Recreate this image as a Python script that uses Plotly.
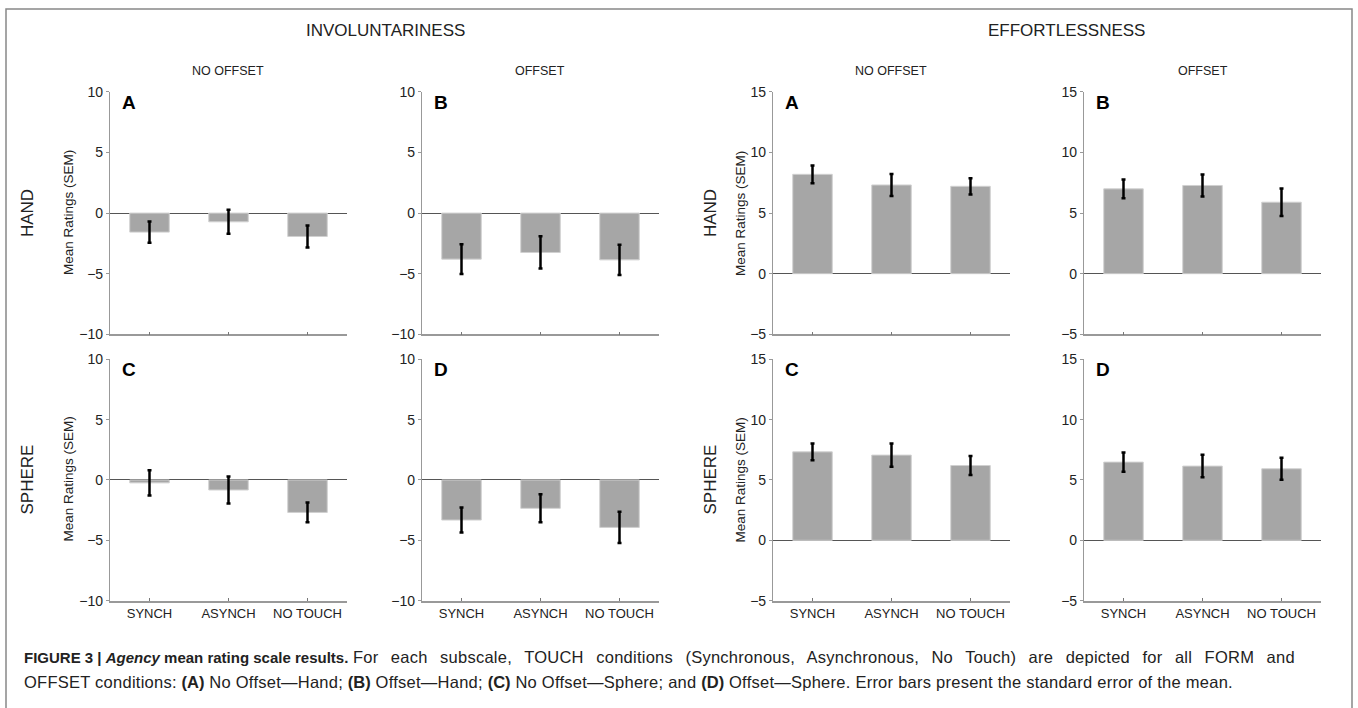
import plotly.graph_objects as go

W, H = 1358, 708

categories = ["SYNCH", "ASYNCH", "NO TOUCH"]

# Involuntariness
inv_A_mean = [-1.57, -0.72, -1.93]
inv_A_sem = [0.88, 0.99, 0.91]
inv_B_mean = [-3.80, -3.25, -3.86]
inv_B_sem = [1.22, 1.33, 1.24]
inv_C_mean = [-0.24, -0.83, -2.69]
inv_C_sem = [1.05, 1.11, 0.82]
inv_D_mean = [-3.32, -2.35, -3.93]
inv_D_sem = [1.03, 1.16, 1.30]

# Effortlessness
eff_A_mean = [8.20, 7.32, 7.21]
eff_A_sem = [0.73, 0.90, 0.67]
eff_B_mean = [7.00, 7.28, 5.90]
eff_B_sem = [0.78, 0.91, 1.13]
eff_C_mean = [7.33, 7.06, 6.20]
eff_C_sem = [0.70, 0.97, 0.78]
eff_D_mean = [6.48, 6.15, 5.93]
eff_D_sem = [0.79, 0.93, 0.92]

panel_letters = ["A", "B", "A", "B", "C", "D", "C", "D"]
inv_ticks = [-10, -5, 0, 5, 10]
eff_ticks = [-5, 0, 5, 10, 15]

panels = [
    (inv_A_mean, inv_A_sem, "inv"), (inv_B_mean, inv_B_sem, "inv"),
    (eff_A_mean, eff_A_sem, "eff"), (eff_B_mean, eff_B_sem, "eff"),
    (inv_C_mean, inv_C_sem, "inv"), (inv_D_mean, inv_D_sem, "inv"),
    (eff_C_mean, eff_C_sem, "eff"), (eff_D_mean, eff_D_sem, "eff"),
]


def py(y):
    # page y coordinate for a target picture y
    return (y - 8.2) / 0.976


col_px = [(110, 347), (422, 659), (773, 1010), (1084, 1321)]
row_px = [(92, 334), (359, 600)]

FONT = "Liberation Sans, Arial, Helvetica, sans-serif"
TXT = "#222222"
AXC = "#999999"

fig = go.Figure()
layout = {}
annotations = []

for i, (m, s, kind) in enumerate(panels):
    r, c = divmod(i, 4)
    sfx = "" if i == 0 else str(i + 1)
    fig.add_trace(go.Bar(
        x=categories, y=m,
        error_y=dict(type="data", array=s, visible=True, color="black",
                     thickness=2.5, width=2),
        marker=dict(color="#a6a6a6", line=dict(color="#d0d0d0", width=1)),
        width=0.5, xaxis="x" + sfx, yaxis="y" + sfx, showlegend=False,
        hoverinfo="skip",
    ))
    x0, x1 = col_px[c]
    y0, y1 = row_px[r]
    rng = [-10, 10] if kind == "inv" else [-5, 15]
    ticks = inv_ticks if kind == "inv" else eff_ticks
    layout["xaxis" + sfx] = dict(
        domain=[x0 / W, x1 / W], anchor="y" + sfx,
        range=[-0.5, 2.5], showline=True, linecolor=AXC, linewidth=1.5,
        ticks="inside", ticklen=3, tickcolor="#777", tickwidth=1,
        showticklabels=(r == 1), showgrid=False, zeroline=False,
        tickfont=dict(family=FONT, size=13, color=TXT), fixedrange=True,
    )
    layout["yaxis" + sfx] = dict(
        domain=[1 - py(y1) / H, 1 - py(y0) / H], anchor="x" + sfx,
        range=rng, tickvals=ticks, showline=True, linecolor=AXC, linewidth=1.2,
        ticks="outside", ticklen=3, tickcolor=AXC, tickwidth=1,
        showgrid=False, zeroline=True, zerolinecolor="#555555", zerolinewidth=1,
        tickfont=dict(family=FONT, size=14, color=TXT), fixedrange=True,
    )
    annotations.append(dict(
        text="<b>%s</b>" % panel_letters[i], xref="x" + sfx, yref="y" + sfx,
        x=-0.5, y=rng[1], xshift=10, yshift=2, xanchor="left", yanchor="top",
        showarrow=False, font=dict(family=FONT, size=19, color="black"),
    ))


def ann(text, xpx, ypx, size, angle=0, xanchor="center"):
    annotations.append(dict(
        text=text, xref="paper", yref="paper", x=xpx / W, y=1 - py(ypx) / H,
        xanchor=xanchor, yanchor="middle", showarrow=False, textangle=angle,
        font=dict(family=FONT, size=size, color=TXT),
    ))


ann("INVOLUNTARINESS", 385, 31, 17)
ann("EFFORTLESSNESS", 1066, 31, 17)
ann("NO OFFSET", 228, 71, 12.5)
ann("OFFSET", 540, 71, 12.5)
ann("NO OFFSET", 891, 71, 12.5)
ann("OFFSET", 1203, 71, 12.5)

for xh, xm in [(27, 68), (710, 740)]:
    ann("HAND", xh, 213, 17, angle=-90)
    ann("SPHERE", xh, 479, 17, angle=-90)
    ann("Mean Ratings (SEM)", xm, 213, 13.5, angle=-90)
    ann("Mean Ratings (SEM)", xm, 479, 13.5, angle=-90)

R1 = '<span style="letter-spacing:0.25px;word-spacing:7.6px">'
R2 = '<span style="letter-spacing:0.25px">'
cap1 = ('<span style="font-size:15px"><b>FIGURE 3 | <i>Agency</i> mean rating scale results.</b></span> '
        + R1 + "For each subscale, TOUCH conditions (Synchronous, Asynchronous, "
        "No Touch) are depicted for all FORM and</span>")
cap2 = (R2 + "OFFSET conditions: </span><b>(A)</b>" + R2 + " No Offset\u2014Hand; </span><b>(B)</b>"
        + R2 + " Offset\u2014Hand; </span><b>(C)</b>" + R2 + " No Offset\u2014Sphere; and </span><b>(D)</b>"
        + R2 + " Offset\u2014Sphere. Error bars present the standard error of the mean.</span>")
ann(cap1, 22, 656, 16.5, xanchor="left")
ann(cap2, 22, 681, 16.5, xanchor="left")

fig.update_layout(
    width=W, height=H, margin=dict(l=0, r=0, t=0, b=0),
    paper_bgcolor="white", plot_bgcolor="white",
    annotations=annotations, bargap=0.5, hovermode=False,
    shapes=[dict(type="rect", xref="paper", yref="paper",
                 x0=6 / W, x1=1352 / W, y0=-0.05, y1=1 - 1 / H,
                 line=dict(color="#888888", width=1.5))],
    **layout,
)

fig.write_html("out.html", config={"displayModeBar": False},
               post_script="document.body.style.margin='0px';")
